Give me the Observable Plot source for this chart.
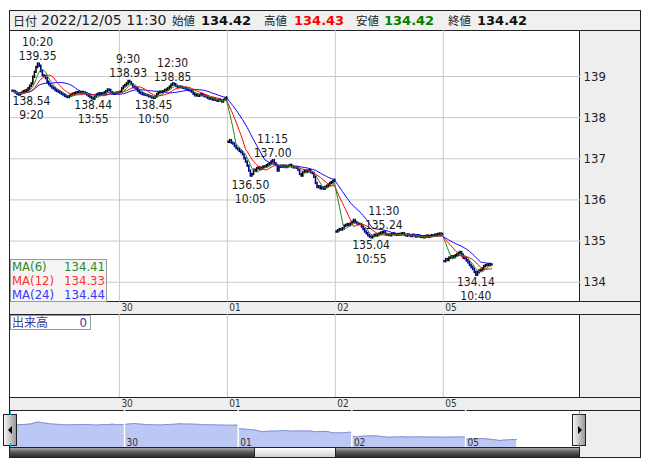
<!DOCTYPE html>
<html><head><meta charset="utf-8">
<script src="https://cdn.jsdelivr.net/npm/d3@7"></script>
<script src="https://cdn.jsdelivr.net/npm/@observablehq/plot@0.6"></script>
<style>
body{margin:0;background:#fff;}
#root{position:relative;width:653px;height:470px;overflow:hidden;font-family:"DejaVu Sans Condensed","DejaVu Sans",sans-serif;}
.abs{position:absolute;box-sizing:border-box;}
.jp{font-family:"Noto Sans CJK JP",sans-serif;}
</style></head><body><div id="root"></div>
<script>
// ---------- data ----------
const dayLabels = ["30", "01", "02", "05"];
const barsPerDay = 68;
const closes1129 = [138.64,138.63,138.60,138.57,138.55,138.58,138.60,138.63,138.64,138.66,
138.70,138.76,138.82,138.98,139.10,139.22,139.30,139.25,139.12,139.02,
139.00,138.95,138.86,138.80,138.76,138.72,138.70,138.66,138.64,138.62,
138.60,138.57,138.55,138.52,138.50,138.49,138.52,138.55,138.57,138.58,
138.60,138.61,138.60,138.60,138.61,138.60,138.58,138.55,138.52,138.49,
138.46,138.45,138.50,138.55,138.57,138.58,138.57,138.58,138.60,138.63,
138.67,138.66,138.61,138.58,138.57,138.59,138.60,138.58];
const closes1130 = [138.62,138.70,138.75,138.78,138.82,138.88,138.85,138.80,138.74,138.72,
138.70,138.64,138.60,138.58,138.56,138.55,138.54,138.53,138.51,138.50,
138.48,138.47,138.50,138.56,138.60,138.62,138.61,138.63,138.66,138.67,
138.70,138.74,138.79,138.82,138.80,138.76,138.74,138.73,138.74,138.72,
138.71,138.70,138.68,138.66,138.65,138.62,138.57,138.53,138.55,138.52,
138.54,138.56,138.53,138.51,138.50,138.47,138.45,138.46,138.43,138.45,
138.42,138.40,138.43,138.41,138.38,138.42,138.45,138.48];
const closes1201 = [137.40,137.44,137.38,137.36,137.30,137.25,137.22,137.18,137.15,137.10,
137.00,136.92,136.82,136.70,136.58,136.62,136.72,136.70,136.76,136.78,
136.74,136.77,136.80,136.80,136.83,136.85,136.88,136.92,136.95,136.88,
136.84,136.70,136.80,136.82,136.80,136.82,136.79,136.81,136.82,136.84,
136.80,136.78,136.79,136.77,136.72,136.62,136.58,136.66,136.70,136.68,
136.70,136.71,136.66,136.64,136.55,136.40,136.30,136.32,136.27,136.29,
136.26,136.30,136.33,136.36,136.40,136.42,136.45,136.48];
const closes1202 = [135.22,135.25,135.28,135.27,135.30,135.36,135.38,135.40,135.38,135.42,
135.46,135.50,135.45,135.42,135.40,135.40,135.34,135.28,135.22,135.18,
135.13,135.10,135.08,135.11,135.14,135.12,135.15,135.17,135.19,135.20,
135.21,135.16,135.14,135.15,135.13,135.16,135.17,135.15,135.14,135.16,
135.15,135.17,135.18,135.14,135.12,135.15,135.13,135.11,135.14,135.12,
135.10,135.13,135.11,135.09,135.10,135.08,135.10,135.12,135.09,135.11,
135.13,135.12,135.14,135.15,135.16,135.17,135.15,135.16];
const closes1205 = [134.50,134.55,134.53,134.58,134.60,134.62,134.60,134.64,134.66,134.70,
134.72,134.66,134.58,134.57,134.52,134.47,134.41,134.36,134.31,134.24,
134.17,134.23,134.27,134.29,134.32,134.38,134.40,134.41,134.43,134.41,
134.42];
const yTicks = [134, 135, 136, 137, 138, 139];

const maPeriods = [6, 12, 24];
const maNames = ["MA(6)", "MA(12)", "MA(24)"];
const maLegendValues = [134.41, 134.33, 134.44];

const headerDateLabel = "日付";
const headerDate = "2022/12/05 11:30";
const headerLabels = ["始値", "高値", "安値", "終値"];
const headerValues = [134.42, 134.43, 134.42, 134.42];

const volumeLabel = "出来高";
const volumeValue = 0;

const annDay   = [0, 0, 0, 1, 1, 1, 2, 2, 3, 3, 4];
const annBar   = [16, 4, 51, 5, 33, 21, 28, 14, 30, 22, 20];
const annTime  = ["10:20","9:20","13:55","9:30","12:30","10:50","11:15","10:05","11:30","10:55","10:40"];
const annPrice = [139.35,138.54,138.44,138.93,138.85,138.45,137.00,136.50,135.24,135.04,134.14];
const annSide  = ["high","low","low","high","high","low","high","low","high","low","low"];

// ---------- styles ----------
const maColors = ["#1f8a1f", "#ff0000", "#0000ff"];
const maTextColors = ["#2a8a2a", "#ff3030", "#3838ff"];
const headerValueColors = ["#111", "#ff0000", "#008000", "#111"];
const gridColor = "#c8c8c8";
const FONT = '"DejaVu Sans Condensed","DejaVu Sans",sans-serif';

// ---------- derived ----------
const days = [closes1129, closes1130, closes1201, closes1202, closes1205];
const bars = [];
days.forEach((cl, d) => cl.forEach((c, j) => {
  const open = j > 0 ? cl[j - 1] : c;
  bars.push({
    g: d * barsPerDay + j + 0.5,
    open, close: c,
    lo: Math.min(open, c) - 0.03,
    hi: Math.max(open, c) + 0.03,
    col: c >= open ? "#000000" : "#00008b"
  });
}));
const closesAll = bars.map(b => b.close);
maPeriods.forEach((k, m) => bars.forEach((b, i) => {
  b["ma" + m] = d3.mean(closesAll.slice(Math.max(0, i - k + 1), i + 1));
}));
const dayStarts = dayLabels.map((_, i) => (i + 1) * barsPerDay);
const anns = [];
annTime.forEach((t, i) => {
  const g = annDay[i] * barsPerDay + annBar[i] + 0.5;
  anns.push({g, price: annPrice[i], side: annSide[i], row: 0, text: annPrice[i].toFixed(2)});
  anns.push({g, price: annPrice[i], side: annSide[i], row: 1, text: t});
});

// ---------- layout ----------
const root = document.getElementById("root");
function div(style, text, cls) {
  const e = document.createElement("div");
  e.className = "abs" + (cls ? " " + cls : "");
  e.setAttribute("style", style);
  if (text != null) e.textContent = text;
  root.appendChild(e);
  return e;
}
// backgrounds
div("left:9px;top:10px;width:632px;height:448px;border:1px solid #222;background:#fff;");
div("left:579px;top:30px;width:62px;height:428px;background:#eeeeee;border-left:1px solid #222;border-right:1px solid #222;border-bottom:1px solid #222;");
div("left:9px;top:10px;width:632px;height:21px;background:#f0f0f0;border:1px solid #222;");
div("left:9px;top:301px;width:632px;height:14px;background:#eeeeee;border:1px solid #222;");
div("left:9px;top:397px;width:632px;height:14px;background:#eeeeee;border:1px solid #222;");

// header texts
div(`left:13px;top:10px;height:21px;line-height:21px;font-size:12px;color:#222;`, headerDateLabel, "jp");
div(`left:41px;top:10px;height:21px;line-height:21px;font-size:14px;font-family:'DejaVu Sans',sans-serif;color:#222;`, headerDate);
const hLabLeft = [172, 264, 356, 448];
const hValLeft = [201, 294, 384, 477];
headerLabels.forEach((l, i) => {
  div(`left:${hLabLeft[i]}px;top:10px;height:21px;line-height:21px;font-size:11.5px;color:#222;`, l, "jp");
  div(`left:${hValLeft[i]}px;top:10px;height:21px;line-height:21px;font-size:13px;font-weight:bold;font-family:'DejaVu Sans',sans-serif;color:${headerValueColors[i]};`, headerValues[i].toFixed(2));
});

function place(svg, left, top) {
  const w = div(`left:${left}px;top:${top}px;`);
  w.appendChild(svg);
}

const svgStyle = {fontFamily: FONT, fontSize: "13px", color: "#222", background: "transparent", overflow: "visible"};
const xDomain = [-0.57, 358.4];
const priceDomain = [133.519, 140.118];

const lineMarks = [2, 1, 0].map(m => Plot.line(bars, {x: "g", y: "ma" + m, stroke: maColors[m], strokeWidth: 1}));
const minG = xDomain[0] + 21 / 1.588;
const annFont = 12;
const annStep = 14; // px between the two lines of a label

function annMark(side, row) {
  const sel = anns.filter(a => a.side === side && a.row === row);
  const high = side === "high";
  const dy = high ? -2 - row * annStep : 1 + row * annStep;
  return Plot.text(sel, {
    x: d => Math.max(d.g, minG), y: "price", text: "text",
    lineAnchor: high ? "bottom" : "top", dy,
    fill: "#1a1a1a", fontSize: annFont
  });
}

const price = Plot.plot({
  width: 632, height: 284,
  marginLeft: 1, marginRight: 61, marginTop: 0, marginBottom: 12.5,
  x: {domain: xDomain, axis: null},
  y: {domain: priceDomain, axis: "right", ticks: yTicks, tickSize: 0, tickPadding: 3, tickFormat: d => String(d), label: null},
  color: {type: "identity"},
  style: svgStyle,
  marks: [
    Plot.ruleY(yTicks, {stroke: gridColor}),
    Plot.ruleX(dayStarts, {stroke: gridColor}),
    Plot.ruleX(bars, {x: "g", y1: "lo", y2: "hi", stroke: "col", strokeWidth: 1.6}),
    ...lineMarks,
    annMark("high", 0), annMark("high", 1),
    annMark("low", 0), annMark("low", 1),
    Plot.text(dayStarts, {x: d => d, y: () => priceDomain[0], text: (d, i) => dayLabels[i], textAnchor: "start", lineAnchor: "top", dx: 2, dy: 2, fontSize: 10, fill: "#333"})
  ]
});
place(price, 9, 30);

const volume = Plot.plot({
  width: 572, height: 96,
  marginLeft: 1, marginRight: 1, marginTop: 0, marginBottom: 13,
  x: {domain: xDomain, axis: null},
  y: {domain: [0, 1], axis: null},
  style: svgStyle,
  marks: [
    Plot.ruleX(dayStarts, {stroke: gridColor}),
    Plot.text(dayStarts, {x: d => d, y: () => 0, text: (d, i) => dayLabels[i], textAnchor: "start", lineAnchor: "top", dx: 2, dy: 2, fontSize: 10, fill: "#333"})
  ]
});
place(volume, 9, 314);

// navigator
const ext = d3.extent(closesAll);
const navRange = [30, 11.5];
const navBase = ext[0] - (37 - navRange[0]) * (ext[1] - ext[0]) / (navRange[0] - navRange[1]);
const nav = Plot.plot({
  width: 572, height: 37,
  marginLeft: 0, marginRight: 0, marginTop: 0, marginBottom: 0,
  x: {domain: [0, 340], range: [1.3, 569.8], axis: null},
  y: {domain: ext, range: navRange, axis: null},
  style: svgStyle,
  marks: [
    Plot.areaY(bars, {x: "g", y1: () => navBase, y2: "close", fill: "#bcc7f3"}),
    Plot.line(bars, {x: "g", y: "close", stroke: "#7f8fd6", strokeWidth: 1}),
    Plot.ruleX(dayStarts, {stroke: "#ffffff", strokeWidth: 1.5}),
    Plot.text(dayStarts, {x: d => d, frameAnchor: "bottom", text: (d, i) => dayLabels[i], textAnchor: "start", lineAnchor: "bottom", dx: 2, dy: -2, fontSize: 10, fill: "#333"})
  ]
});
place(nav, 9, 410);

// scrollbar
div("left:9px;top:447px;width:571px;height:11px;background:linear-gradient(to bottom,#a8a8a8 0%,#5a5a5a 45%,#2a2a2a 100%);border:1px solid #222;");
div("left:254px;top:447px;width:82px;height:11px;background:linear-gradient(to bottom,#ffffff,#cfcfcf);border:1px solid #222;");
// nav buttons
function button(left, dir) {
  const b = div(`left:${left}px;top:414px;width:14px;height:32px;background:linear-gradient(to right,#f4f4f4,#9a9a9a);border:1px solid #222;`);
  const t = document.createElement("div");
  t.setAttribute("style", `position:absolute;top:11px;left:${dir === "left" ? 4 : 5}px;width:0;height:0;border-top:4px solid transparent;border-bottom:4px solid transparent;` +
    (dir === "left" ? "border-right:4px solid #000;" : "border-left:4px solid #000;"));
  b.appendChild(t);
}
button(3, "left");
button(572, "right");
// cyan range markers
[10, 579].forEach(x => {
  div(`left:${x}px;top:411px;width:1px;height:4px;background:#00b8f0;`);
  div(`left:${x}px;top:443px;width:1px;height:4px;background:#00b8f0;`);
});

// MA legend
const leg = div("left:10px;top:259px;width:97px;height:43px;background:rgba(244,244,244,0.92);border:1px solid #9a9a9a;");
maNames.forEach((n, i) => {
  const row = document.createElement("div");
  row.setAttribute("style", `position:absolute;left:1px;right:1px;top:${i * 14}px;height:14px;line-height:14px;font-size:13px;color:${maTextColors[i]};`);
  const a = document.createElement("span"); a.textContent = n;
  const v = document.createElement("span"); v.textContent = maLegendValues[i].toFixed(2);
  v.setAttribute("style", "position:absolute;right:0;");
  row.appendChild(a); row.appendChild(v);
  leg.appendChild(row);
});

// volume label box
const vb = div("left:10px;top:315px;width:81px;height:15px;background:#fff;border:1px solid #9a9a9a;");
const vl = document.createElement("span");
vl.className = "jp"; vl.textContent = volumeLabel;
vl.setAttribute("style", "position:absolute;left:1px;top:-2px;font-size:12px;line-height:16px;color:#3a3a9a;");
const vv = document.createElement("span");
vv.textContent = String(volumeValue);
vv.setAttribute("style", "position:absolute;right:3px;top:0px;font-size:13px;line-height:14px;color:#3a3a9a;");
vb.appendChild(vl); vb.appendChild(vv);
</script>
</body></html>
